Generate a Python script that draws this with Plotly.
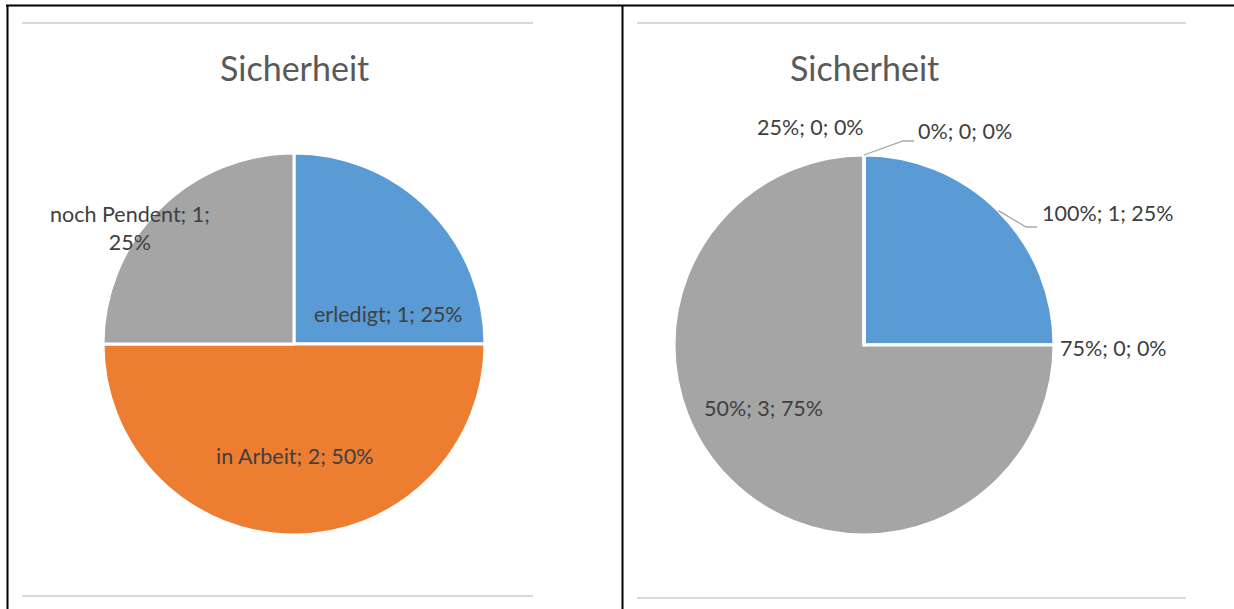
import math
import plotly.graph_objects as go

W, H = 1234, 609

# ---- data ----
title_text = "Sicherheit"
left_labels = ["erledigt", "in Arbeit", "noch Pendent"]
left_values = [1, 2, 1]
right_labels = ["100%", "75%", "50%", "25%", "0%"]
right_values = [1, 0, 3, 0, 0]
palette = ["#5B9BD5", "#ED7D31", "#A5A5A5", "#FFC000", "#4472C4"]

FONT = "Lato"
TXT = "#404040"
LBL_SIZE = 21.5
TITLE_SIZE = 34


def px(x):
    return x / W


def py(y):
    return 1 - y / H


def pie_domain(cx, cy, r):
    return dict(x=[px(cx - r), px(cx + r)], y=[py(cy + r), py(cy - r)])


L_C = (294, 344, 191)
R_C = (864, 345, 190)

fig = go.Figure()
fig.add_trace(go.Pie(
    labels=left_labels, values=left_values, sort=False, direction="clockwise",
    rotation=0, marker=dict(colors=palette[:3], line=dict(color="white", width=3)),
    textinfo="none", hoverinfo="label+value+percent", domain=pie_domain(*L_C),
    showlegend=False,
))
fig.add_trace(go.Pie(
    labels=right_labels, values=right_values, sort=False, direction="clockwise",
    rotation=0, marker=dict(colors=palette[:5], line=dict(color="white", width=3)),
    textinfo="none", hoverinfo="label+value+percent", domain=pie_domain(*R_C),
    showlegend=False,
))


def mid_angles(values):
    tot = sum(values)
    out, acc = [], 0
    for v in values:
        out.append((acc + v / 2) / tot * 2 * math.pi)
        acc += v
    return out


def polar(c, ang, f):
    cx, cy, r = c
    return cx + r * f * math.sin(ang), cy - r * f * math.cos(ang)


def label_text(lab, val, values):
    return f"{lab}; {val}; {round(100 * val / sum(values))}%"


ann = []
shapes = []

# titles
for cx in (L_C[0], R_C[0]):
    ann.append(dict(x=px(cx), y=py(68), text=title_text, showarrow=False,
                    xanchor="center", yanchor="middle",
                    font=dict(family=FONT, size=TITLE_SIZE, color="#595959")))

# left labels
lpos = [(388, 314), (294, 456), (130, 228)]
for i, (lab, val) in enumerate(zip(left_labels, left_values)):
    t = label_text(lab, val, left_values)
    if lab == "noch Pendent":
        t = f"{lab}; {val};<br>{round(100 * val / sum(left_values))}%"
    x, y = lpos[i]
    ann.append(dict(x=px(x), y=py(y), text=t, showarrow=False, xanchor="center",
                    yanchor="middle", font=dict(family=FONT, size=LBL_SIZE, color=TXT)))

# right labels
ra = mid_angles(right_values)
rpos = {"100%": (1040, 213, "left"), "75%": (1058, 348, "left"),
        "50%": (763, 408, "center"), "25%": (810, 127, "center"),
        "0%": (916, 131, "left")}
for lab, val in zip(right_labels, right_values):
    x, y, anc = rpos[lab]
    ann.append(dict(x=px(x), y=py(y), text=label_text(lab, val, right_values),
                    showarrow=False, xanchor=anc, yanchor="middle",
                    font=dict(family=FONT, size=LBL_SIZE, color=TXT)))

# leader lines (from slice edge midpoint to label)
lead_col = "#A6A6A6"
for lab, (ex, ey) in (("100%", (1037, 227)), ("0%", (914, 141))):
    i = right_labels.index(lab)
    sx, sy = polar(R_C, ra[i], 1.0)
    kx = ex - 11
    path = f"M {px(sx)},{py(sy)} L {px(kx)},{py(ey)} L {px(ex)},{py(ey)}"
    shapes.append(dict(type="path", xref="paper", yref="paper", path=path,
                       line=dict(color=lead_col, width=1.3)))

# chart-area separator lines (light gray)
for x0, x1, y in ((22, 533, 23), (22, 533, 596), (637, 1186, 23), (637, 1186, 598)):
    shapes.append(dict(type="line", xref="paper", yref="paper", x0=px(x0), x1=px(x1),
                       y0=py(y), y1=py(y), line=dict(color="#D9D9D9", width=2)))

# table borders
shapes.append(dict(type="line", xref="paper", yref="paper", x0=px(6), x1=px(1234),
                   y0=py(5.5), y1=py(5.5), line=dict(color="black", width=2)))
for x in (7.5, 622.5):
    shapes.append(dict(type="line", xref="paper", yref="paper", x0=px(x), x1=px(x),
                       y0=py(5), y1=0, line=dict(color="black", width=2)))

fig.update_layout(
    width=W, height=H, margin=dict(l=0, r=0, t=0, b=0),
    paper_bgcolor="white", plot_bgcolor="white",
    annotations=ann, shapes=shapes, showlegend=False,
)
fig.write_html(
    "out.html",
    config={"displayModeBar": False},
    post_script="document.body.style.margin='0';document.body.style.overflow='hidden';",
)
